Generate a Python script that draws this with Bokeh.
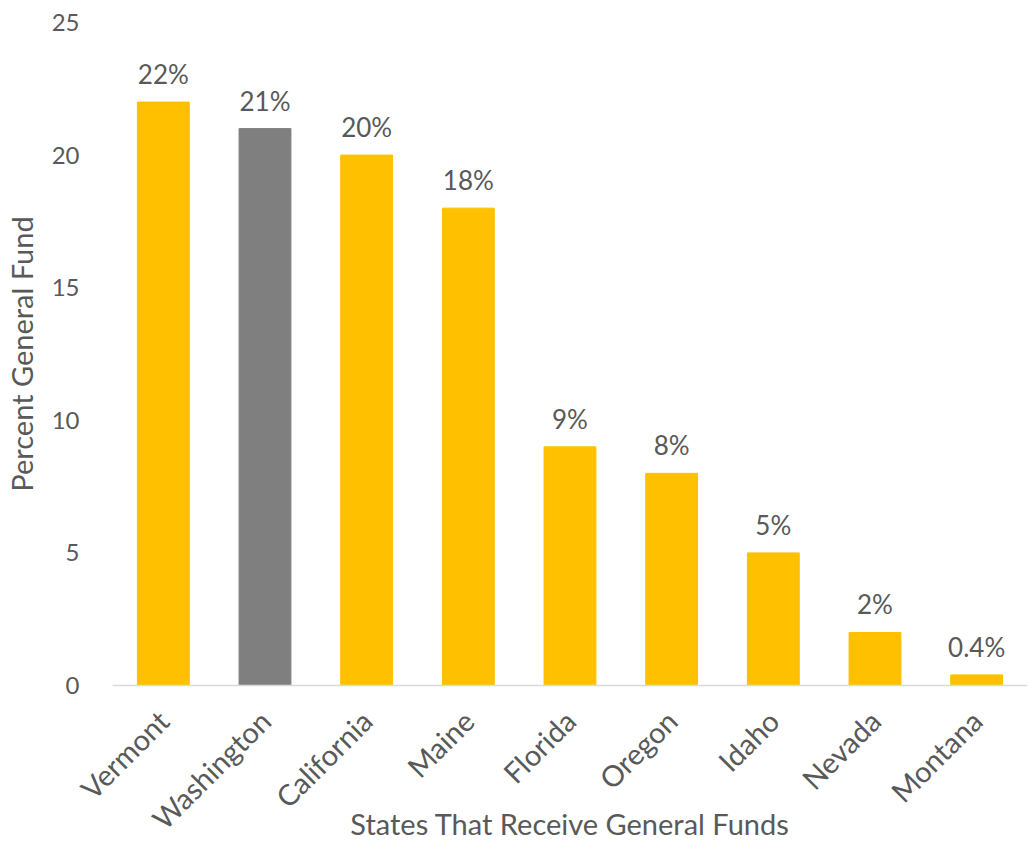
import math
from bokeh.plotting import figure
from bokeh.models import ColumnDataSource, Range1d, FixedTicker
from bokeh.core.properties import value
from bokeh.embed import file_html
from bokeh.resources import INLINE

states = ["Vermont", "Washington", "California", "Maine", "Florida", "Oregon", "Idaho", "Nevada", "Montana"]
percents = [22, 21, 20, 18, 9, 8, 5, 2, 0.4]
labels = ["22%", "21%", "20%", "18%", "9%", "8%", "5%", "2%", "0.4%"]
colors = ["#FFC000", "#7F7F7F", "#FFC000", "#FFC000", "#FFC000", "#FFC000", "#FFC000", "#FFC000", "#FFC000"]
y_ticks = [0, 5, 10, 15, 20, 25]
x_title = "States That Receive General Funds"
y_title = "Percent General Fund"

FONT = "Lato"
TXT = "#595959"

src = ColumnDataSource(dict(states=states, percents=percents, labels=labels, colors=colors))

p = figure(x_range=states, y_range=Range1d(0, 25), width=1028, height=844,
           output_backend="svg", toolbar_location=None,
           min_border_left=109, min_border_right=1, min_border_top=22, min_border_bottom=158)
p.outline_line_color = None
p.grid.grid_line_color = None
p.x_range.range_padding = 0.0

p.vbar(x="states", top="percents", width=0.51, color="colors", source=src)
p.text(x="states", y="percents", text="labels", source=src, text_align="center",
       text_baseline="alphabetic", y_offset=-28, text_font=value(FONT),
       text_font_size="26px", text_color=TXT)

p.yaxis.ticker = FixedTicker(ticks=y_ticks)
p.yaxis.axis_line_color = None
p.yaxis.major_tick_line_color = None
p.yaxis.minor_tick_line_color = None
p.yaxis.major_label_standoff = 27
p.yaxis.major_label_text_font = FONT
p.yaxis.major_label_text_font_size = "24px"
p.yaxis.major_label_text_color = TXT
p.yaxis.axis_label = y_title
p.yaxis.axis_label_text_font = FONT
p.yaxis.axis_label_text_font_size = "29px"
p.yaxis.axis_label_text_font_style = "normal"
p.yaxis.axis_label_text_color = TXT
p.yaxis.axis_label_standoff = 10

p.xaxis.axis_line_color = "#D9D9D9"
p.xaxis.axis_line_width = 1.5
p.xaxis.major_tick_line_color = None
p.xaxis.minor_tick_line_color = None
p.xaxis.major_label_orientation = math.pi / 4
p.xaxis.major_label_standoff = 24
p.xaxis.major_label_text_font = FONT
p.xaxis.major_label_text_font_size = "29px"
p.xaxis.major_label_text_color = TXT
p.xaxis.axis_label = x_title
p.xaxis.axis_label_text_font = FONT
p.xaxis.axis_label_text_font_size = "29px"
p.xaxis.axis_label_text_font_style = "normal"
p.xaxis.axis_label_text_color = TXT
p.xaxis.axis_label_standoff = -45

open("out.html", "w").write(file_html(p, INLINE))
